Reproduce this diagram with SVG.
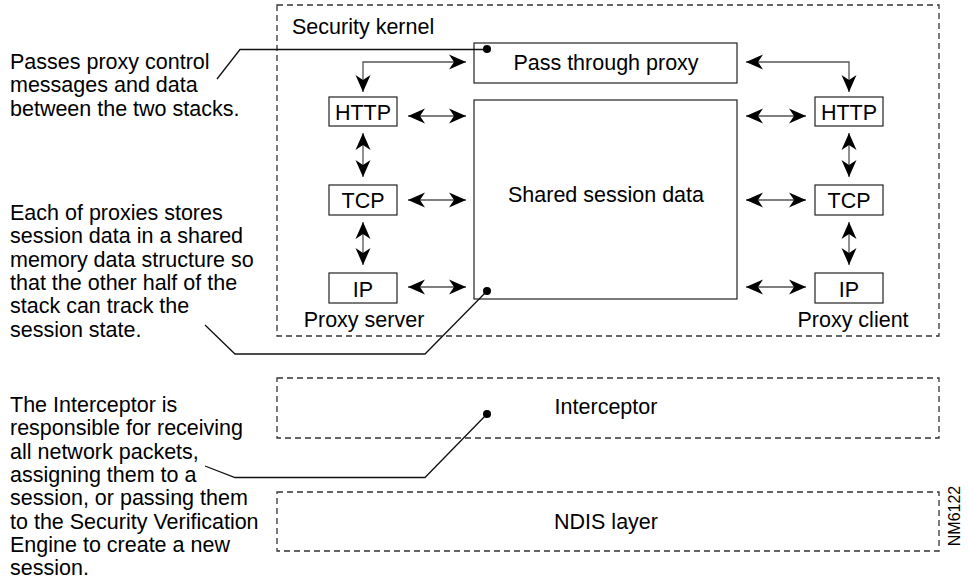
<svg xmlns="http://www.w3.org/2000/svg" width="968" height="586" viewBox="0 0 968 586">
<style>
text{font-family:"Liberation Sans",Arial,Helvetica,sans-serif;font-size:21.5px;fill:#000}
.mid{text-anchor:middle}
.box{fill:#fff;stroke:#222;stroke-width:1.2}
.dash{fill:none;stroke:#333;stroke-width:1.3;stroke-dasharray:6 4}
.arr{fill:none;stroke:#555;stroke-width:1.3}
.call{fill:none;stroke:#111;stroke-width:1.3}
</style>
<defs>
<marker id="ah" viewBox="-20 -10 22 20" refX="0" refY="0" markerWidth="22" markerHeight="20" markerUnits="userSpaceOnUse" orient="auto-start-reverse">
<path d="M0,0 L-17,-7.5 L-12,0 L-17,7.5 Z" fill="#000"/>
</marker>
</defs>

<g id="security-kernel">
<rect class="dash" x="277" y="5" width="662" height="331"/>
<text x="292" y="34">Security kernel</text>
</g>

<g id="pass-through-proxy">
<rect class="box" x="474" y="43" width="263" height="40"/>
<text class="mid" x="606" y="70">Pass through proxy</text>
</g>

<g id="shared-session-data">
<rect class="box" x="474" y="100" width="263" height="199"/>
<text class="mid" x="606" y="202">Shared session data</text>
</g>

<g id="http-server">
<rect class="box" x="329" y="97" width="68" height="29"/>
<text class="mid" x="363" y="120">HTTP</text>
</g>
<g id="tcp-server">
<rect class="box" x="329" y="185" width="68" height="30"/>
<text class="mid" x="363" y="208">TCP</text>
</g>
<g id="ip-server">
<rect class="box" x="329" y="273" width="68" height="30"/>
<text class="mid" x="363" y="297">IP</text>
</g>
<g id="proxy-server-label">
<text class="mid" x="364" y="327">Proxy server</text>
</g>

<g id="http-client">
<rect class="box" x="815" y="97" width="68" height="29"/>
<text class="mid" x="849" y="120">HTTP</text>
</g>
<g id="tcp-client">
<rect class="box" x="815" y="185" width="68" height="30"/>
<text class="mid" x="849" y="208">TCP</text>
</g>
<g id="ip-client">
<rect class="box" x="815" y="273" width="68" height="30"/>
<text class="mid" x="849" y="297">IP</text>
</g>
<g id="proxy-client-label">
<text class="mid" x="853" y="327">Proxy client</text>
</g>

<g id="interceptor">
<rect class="dash" x="277" y="378" width="662" height="60"/>
<text class="mid" x="606" y="414">Interceptor</text>
</g>

<g id="ndis-layer">
<rect class="dash" x="277" y="492" width="662" height="59"/>
<text class="mid" x="606" y="529">NDIS layer</text>
</g>

<g id="note-pass">
<text x="10" y="69">Passes proxy control</text>
<text x="10" y="92.3">messages and data</text>
<text x="10" y="115.6">between the two stacks.</text>
</g>

<g id="note-session">
<text x="10" y="220">Each of proxies stores</text>
<text x="10" y="243.3">session data in a shared</text>
<text x="10" y="266.6">memory data structure so</text>
<text x="10" y="289.9">that the other half of the</text>
<text x="10" y="313.2">stack can track the</text>
<text x="10" y="336.5">session state.</text>
</g>

<g id="note-interceptor">
<text x="10" y="412">The Interceptor is</text>
<text x="10" y="435.3">responsible for receiving</text>
<text x="10" y="458.6">all network packets,</text>
<text x="10" y="481.9">assigning them to a</text>
<text x="10" y="505.2">session, or passing them</text>
<text x="10" y="528.5">to the Security Verification</text>
<text x="10" y="551.8">Engine to create a new</text>
<text x="10" y="575.1">session.</text>
</g>

<g id="figure-id">
<text x="960" y="516" class="mid" transform="rotate(-90 960 516)" style="font-size:16px">NM6122</text>
</g>

<g id="connectors">
<path class="arr" d="M466,62 H363 V92" marker-start="url(#ah)" marker-end="url(#ah)"/>
<path class="arr" d="M746,62 H849 V92" marker-start="url(#ah)" marker-end="url(#ah)"/>
<path class="arr" d="M408,116 H466" marker-start="url(#ah)" marker-end="url(#ah)"/>
<path class="arr" d="M408,200 H466" marker-start="url(#ah)" marker-end="url(#ah)"/>
<path class="arr" d="M408,287 H466" marker-start="url(#ah)" marker-end="url(#ah)"/>
<path class="arr" d="M746,116 H806" marker-start="url(#ah)" marker-end="url(#ah)"/>
<path class="arr" d="M746,200 H806" marker-start="url(#ah)" marker-end="url(#ah)"/>
<path class="arr" d="M746,287 H806" marker-start="url(#ah)" marker-end="url(#ah)"/>
<path class="arr" d="M363,133 V177" marker-start="url(#ah)" marker-end="url(#ah)"/>
<path class="arr" d="M363,222 V265" marker-start="url(#ah)" marker-end="url(#ah)"/>
<path class="arr" d="M849,133 V177" marker-start="url(#ah)" marker-end="url(#ah)"/>
<path class="arr" d="M849,222 V265" marker-start="url(#ah)" marker-end="url(#ah)"/>
<polyline class="call" points="217,79 240,49.5 487,49.5"/>
<circle cx="487" cy="49" r="4" fill="#000"/>
<polyline class="call" points="205,325 235,354 425,354 487,291"/>
<circle cx="487" cy="291" r="4" fill="#000"/>
<polyline class="call" points="205,466 235,477.5 425,477.5 487,414"/>
<circle cx="487" cy="414" r="4" fill="#000"/>
</g>
</svg>
